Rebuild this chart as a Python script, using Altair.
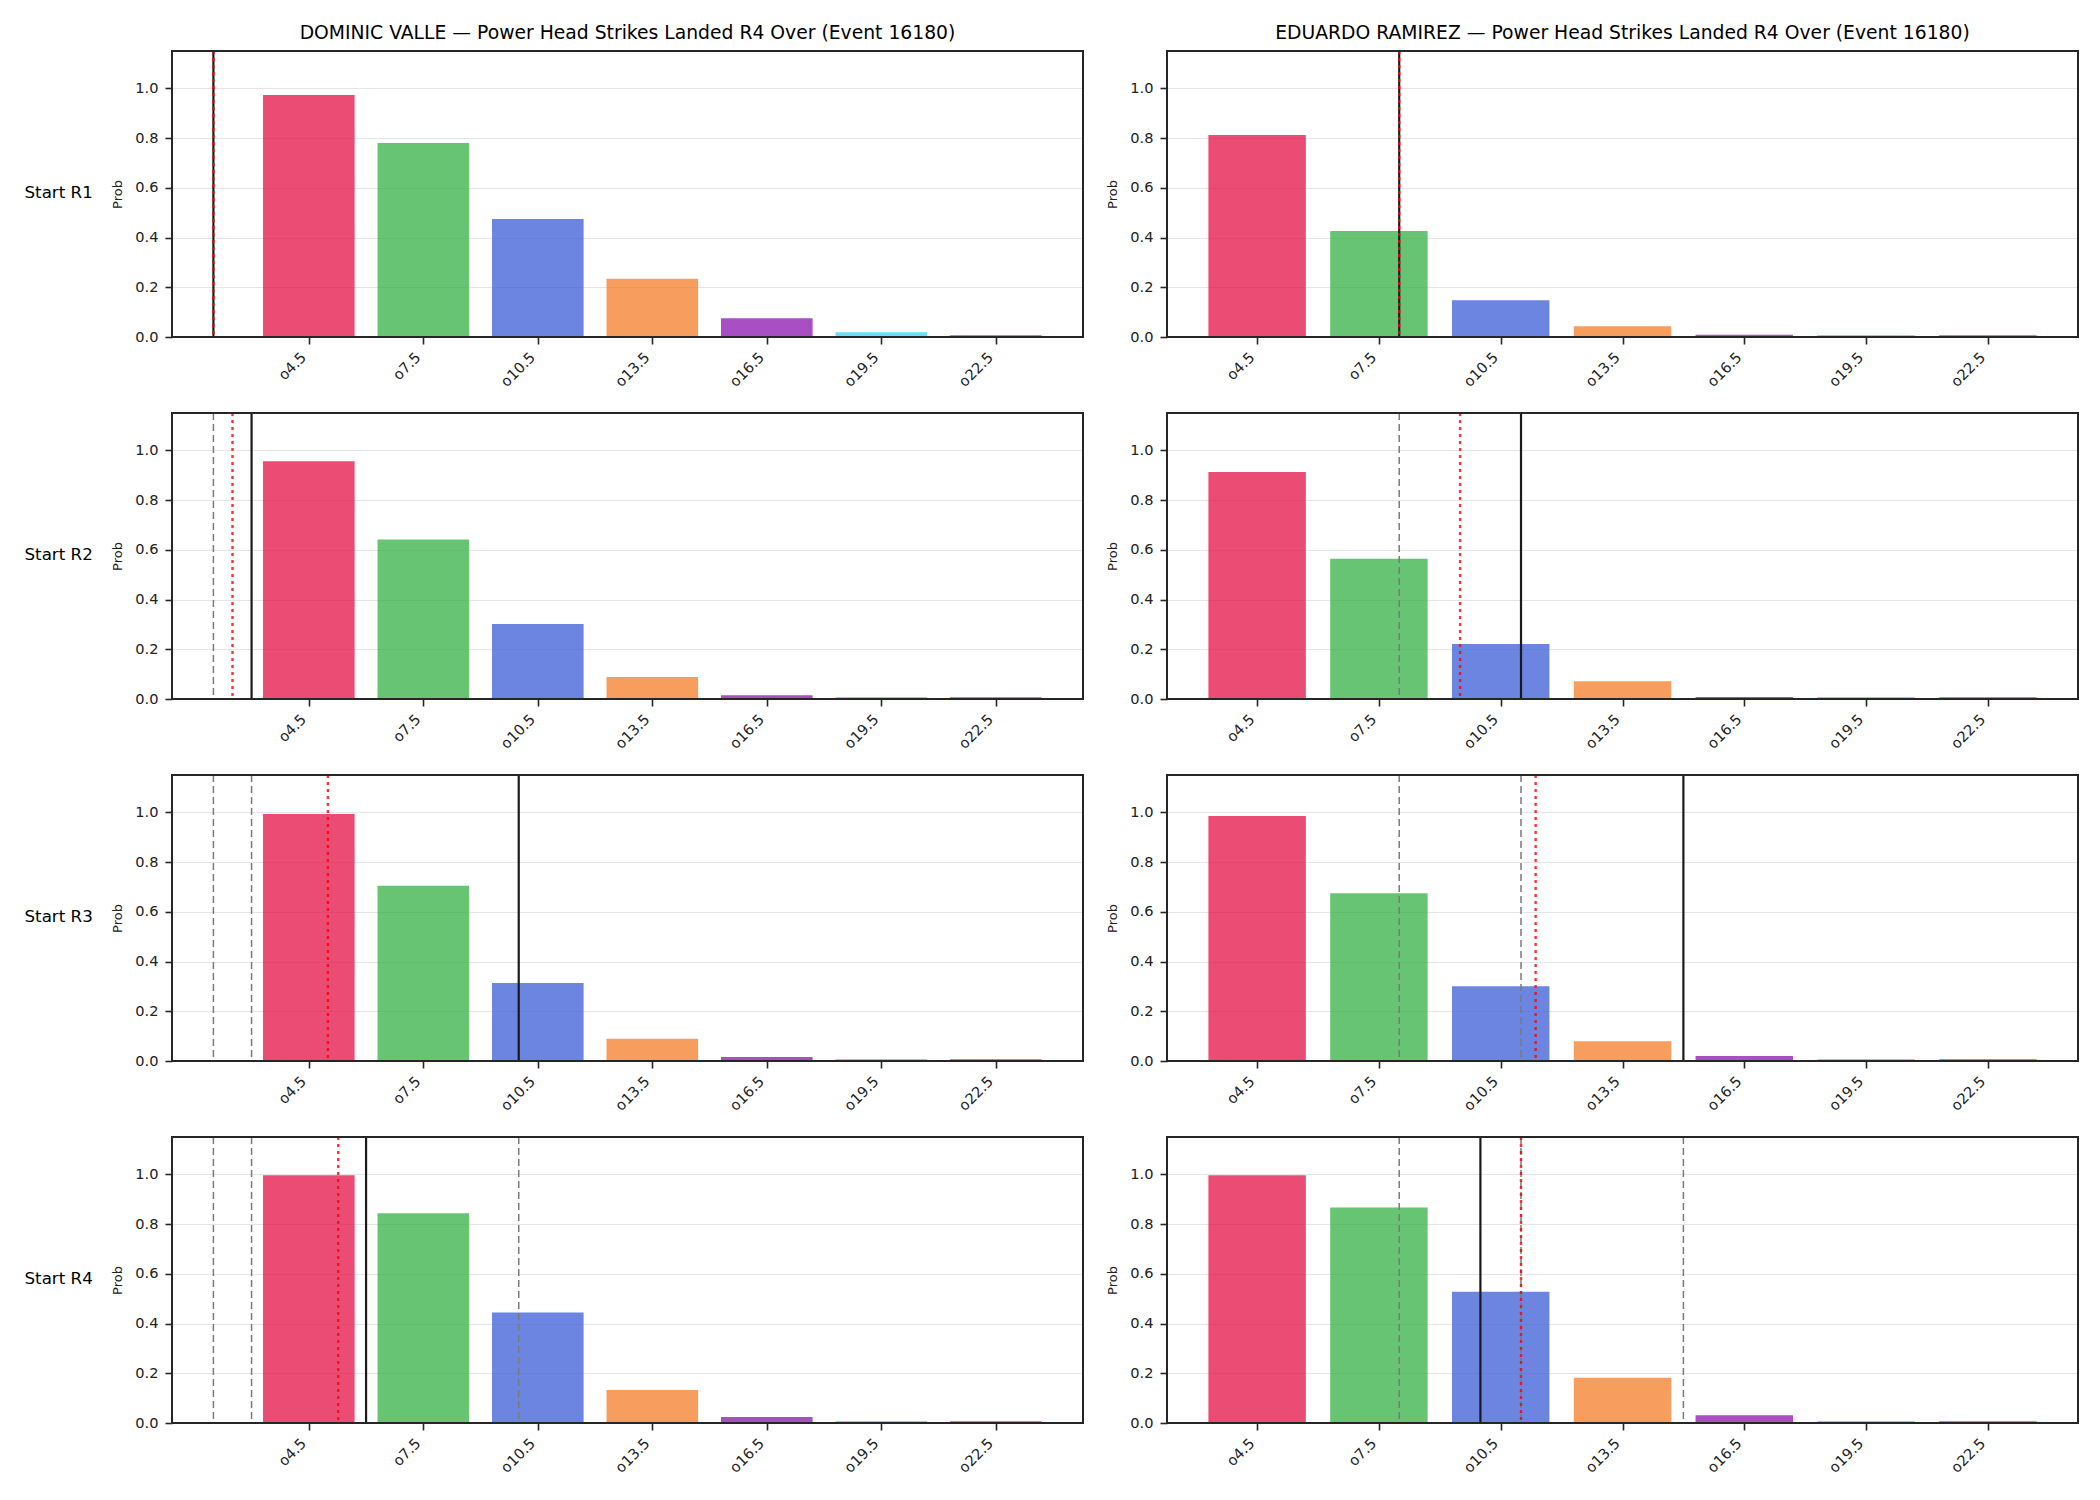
import altair as alt
import pandas as pd

# ---------------- data ----------------
lines = [4.5, 7.5, 10.5, 13.5, 16.5, 19.5, 22.5]
labels = ["o4.5", "o7.5", "o10.5", "o13.5", "o16.5", "o19.5", "o22.5"]
colors = ["#e6194b", "#3cb44b", "#4363d8", "#f58231", "#911eb4", "#42d4f4", "#f032e6"]

fighters = ["DOMINIC VALLE", "EDUARDO RAMIREZ"]
market = "Power Head Strikes Landed R4 Over (Event 16180)"
rounds = ["Start R1", "Start R2", "Start R3", "Start R4"]

valle_probs = [
    [0.973, 0.780, 0.474, 0.234, 0.075, 0.019, 0.008],
    [0.956, 0.641, 0.302, 0.088, 0.015, 0.008, 0.008],
    [0.993, 0.705, 0.314, 0.089, 0.016, 0.008, 0.008],
    [0.996, 0.843, 0.444, 0.133, 0.024, 0.008, 0.008],
]
ramirez_probs = [
    [0.812, 0.426, 0.148, 0.043, 0.009, 0.008, 0.008],
    [0.913, 0.564, 0.221, 0.071, 0.008, 0.008, 0.008],
    [0.985, 0.675, 0.301, 0.079, 0.020, 0.008, 0.008],
    [0.996, 0.867, 0.528, 0.182, 0.031, 0.008, 0.008],
]

valle_solid = [2.0, 3.0, 10.0, 6.0]
valle_dashed = [[], [2.0], [2.0, 3.0], [2.0, 3.0, 10.0]]
valle_red = [2.0, 2.5, 5.0, 5.27]

ramirez_solid = [8.0, 11.0, 15.0, 10.0]
ramirez_dashed = [[], [8.0], [8.0, 11.0], [8.0, 11.0, 15.0]]
ramirez_red = [8.0, 9.5, 11.36, 11.0]

x_domains = [[0.915, 24.785], [2.28, 24.72]]
y_ticks = [0.0, 0.2, 0.4, 0.6, 0.8, 1.0]

all_probs = [valle_probs, ramirez_probs]
all_solid = [valle_solid, ramirez_solid]
all_dashed = [valle_dashed, ramirez_dashed]
all_red = [valle_red, ramirez_red]

# ---------------- layout ----------------
W, H = 911, 286
FONT = "DejaVu Sans"
DARK = "#262626"


def panel(fi, ri):
    xs = alt.Scale(domain=x_domains[fi], nice=False, zero=False)
    ys = alt.Scale(domain=[0, 1.15], nice=False, zero=True)
    x_axis = alt.Axis(
        values=lines, labelExpr="'o' + datum.value", title=None, grid=False,
        domain=False, ticks=True, tickSize=7, tickWidth=1.6, tickColor=DARK,
        labelAngle=-45, labelAlign="right", labelBaseline="middle",
        labelPadding=11, labelOffset=-5, labelFont=FONT, labelFontSize=14.6,
        labelColor="#222222",
    )

    def xenc(field):
        return alt.X(field, scale=xs, axis=x_axis)

    df = pd.DataFrame({"line": lines, "label": labels, "prob": all_probs[fi][ri]})
    bars = (
        alt.Chart(df)
        .transform_calculate(x0="datum.line - 1.2", x1="datum.line + 1.2", base="0")
        .mark_bar(opacity=0.78)
        .encode(
            x=xenc("x0:Q"),
            x2="x1:Q",
            y=alt.Y(
                "prob:Q", scale=ys,
                axis=alt.Axis(
                    values=y_ticks, format=".1f", title="Prob", grid=True,
                    gridColor="#e5e5e5", gridWidth=1, domain=False,
                    tickSize=7, tickWidth=1.6, tickColor=DARK, labelPadding=7,
                    labelFont=FONT, labelFontSize=14.6, labelColor="#222222",
                    titleFont=FONT, titleFontSize=13, titleFontWeight="normal",
                    titleColor="#222222", titleX=-54.5, titleY=H / 2,
                    titleAngle=-90, titleAlign="center", titleBaseline="middle",
                ),
            ),
            y2="base:Q",
            color=alt.Color("label:N", scale=alt.Scale(domain=labels, range=colors), legend=None),
        )
    )
    layers = [bars]

    if all_dashed[fi][ri]:
        dashed = (
            alt.Chart(pd.DataFrame({"v": all_dashed[fi][ri]}))
            .mark_rule(color="#7a7a7a", strokeWidth=1.5, strokeDash=[7, 4])
            .encode(x=xenc("v:Q"))
        )
        layers.append(dashed)
    solid = (
        alt.Chart(pd.DataFrame({"v": [all_solid[fi][ri]]}))
        .mark_rule(color="#1a1a1a", strokeWidth=2.2)
        .encode(x=xenc("v:Q"))
    )
    red = (
        alt.Chart(pd.DataFrame({"v": [all_red[fi][ri]]}))
        .mark_rule(color="#ff0000", opacity=0.8, strokeWidth=2.4, strokeDash=[3, 4])
        .encode(x=xenc("v:Q"))
    )
    layers += [solid, red]

    one = pd.DataFrame({"a": [0]})
    frame = (
        alt.Chart(one)
        .mark_rect(fillOpacity=0, stroke=DARK, strokeWidth=2.0)
        .encode(x=alt.value(0), x2=alt.value(W), y=alt.value(0), y2=alt.value(H))
    )
    layers.append(frame)

    if ri == 0:
        title = (
            alt.Chart(pd.DataFrame({"t": [f"{fighters[fi]} \u2014 {market}"]}))
            .mark_text(font=FONT, fontSize=18.75, color="#000000", align="center", baseline="alphabetic")
            .encode(text="t:N", x=alt.value(W / 2), y=alt.value(-12))
        )
        layers.append(title)
    if fi == 0:
        rowlab = (
            alt.Chart(pd.DataFrame({"t": [rounds[ri]]}))
            .mark_text(font=FONT, fontSize=16.7, color="#000000", align="left", baseline="middle")
            .encode(text="t:N", x=alt.value(23 - 170.5), y=alt.value(H / 2 - 1))
        )
        layers.append(rowlab)
    if fi == 0 and ri == 0:
        anchor = (
            alt.Chart(one)
            .mark_point(size=1, opacity=0, filled=True)
            .encode(x=alt.value(-170.5), y=alt.value(-50))
        )
        layers.append(anchor)

    return alt.layer(*layers).properties(width=W, height=H)


charts = [panel(fi, ri) for ri in range(4) for fi in range(2)]

chart = (
    alt.concat(*charts, columns=2, spacing={"row": 76, "column": 84}, bounds="flush")
    .properties(padding={"left": 0, "top": 0, "right": 10, "bottom": 10}, background="white")
    .configure_view(stroke=None)
    .configure(font=FONT)
)

chart.save("out.html", embed_options={"renderer": "svg", "actions": False})
